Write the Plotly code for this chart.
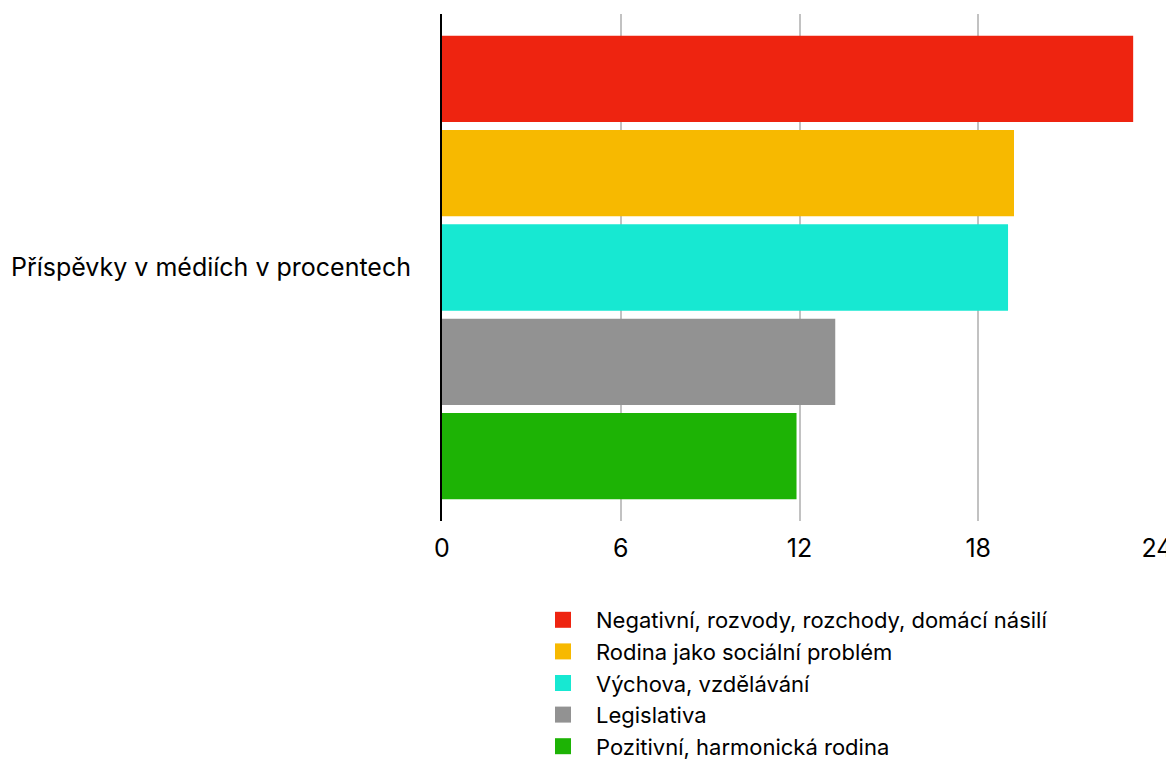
import plotly.graph_objects as go

categories = ["Příspěvky v médiích v procentech"]
series_names = [
    "Negativní, rozvody, rozchody, domácí násilí",
    "Rodina jako sociální problém",
    "Výchova, vzdělávání",
    "Legislativa",
    "Pozitivní, harmonická rodina",
]
series_values = [23.2, 19.2, 19.0, 13.2, 11.9]
colors = ["#ee2410", "#f7b900", "#17e8d2", "#929292", "#1db305"]
tick_vals = [0, 6, 12, 18, 24]

FONT = "Inter, Liberation Sans, Arial, sans-serif"

fig = go.Figure()
for name, val, col in zip(series_names, series_values, colors):
    fig.add_trace(go.Bar(
        x=[val], y=categories, name=name, orientation="h",
        marker=dict(color=col, line=dict(width=0)),
        showlegend=False,
    ))
for name, col in zip(series_names, colors):
    fig.add_trace(go.Scatter(
        x=[None], y=categories, name=name, mode="markers",
        marker=dict(symbol="square", size=23, color=col),
        showlegend=True, hoverinfo="skip",
    ))

fig.update_layout(
    width=1166, height=752,
    margin=dict(l=434, r=17, t=6, b=239, autoexpand=False),
    paper_bgcolor="white", plot_bgcolor="white",
    barmode="group", bargap=0.07, bargroupgap=0.085,
    font=dict(family=FONT, size=25, color="black"),
    showlegend=True,
    legend=dict(
        x=88 / 715, y=-78 / 507,
        xanchor="left", yanchor="top",
        font=dict(size=22), tracegroupgap=0, itemsizing="trace",
        itemwidth=56, traceorder="normal",
    ),
    xaxis=dict(
        range=[0, 24], tickvals=tick_vals, showgrid=True,
        gridcolor="#c2c2c2", gridwidth=2, zeroline=False,
        showline=False, ticks="", ticklabelstandoff=10,
        tickfont=dict(size=25), automargin=False,
    ),
    yaxis=dict(
        autorange="reversed", showline=True, linecolor="black",
        linewidth=2, showgrid=False, ticks="", ticklabelstandoff=24,
        tickfont=dict(size=25), automargin=False,
    ),
)

fig.write_html("out.html")
